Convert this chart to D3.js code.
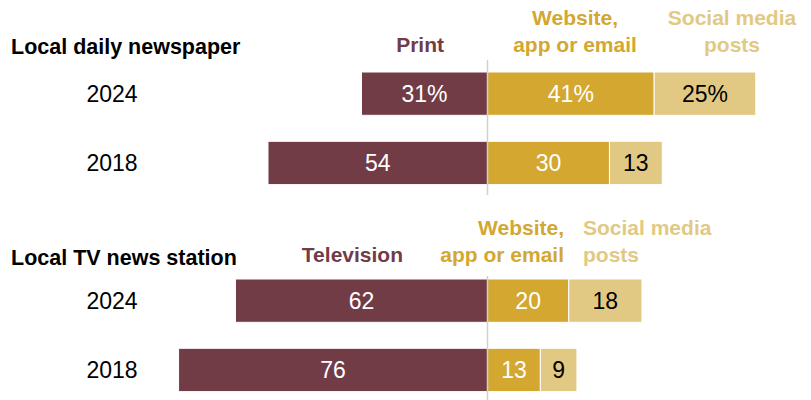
<!DOCTYPE html>
<html>
<head>
<meta charset="utf-8">
<script src="https://cdn.jsdelivr.net/npm/d3@7"></script>
<style>
  html, body { margin: 0; padding: 0; background: #fff; }
  svg { display: block; font-family: "Liberation Sans", Arial, sans-serif; }
</style>
</head>
<body>
<svg id="chart" width="811" height="400"></svg>
<script>
// Where people get news from local outlets, by platform
const years = ["2024", "2018"];
const groups = ["Local daily newspaper", "Local TV news station"];
const legacyNames = ["Print", "Television"];
const legacy = [[31, 54], [62, 76]];          // print / television share
const digital = [[41, 30], [20, 13]];         // website, app or email
const social = [[25, 13], [18, 9]];           // social media posts

const colors = { legacy: "#723c47", digital: "#d3a730", social: "#e2c983", axis: "#d0d0d0" };

const svg = d3.select("#chart");
const x = d3.scaleLinear().domain([-100, 100]).range([81, 894]);
const y = d3.scaleBand().domain(years).range([0, 112.6]).paddingInner(0.375);

const groupTop = [72, 279];
const axisSpan = [[-12, 123], [-3, 121]];

groups.forEach((name, gi) => {
  const g = svg.append("g").attr("transform", `translate(0,${groupTop[gi]})`);

  // group title
  g.append("text")
    .attr("x", 11).attr("y", gi === 0 ? -18 : -14)
    .attr("font-size", 21.5).attr("font-weight", "bold").attr("fill", "#000")
    .text(name);

  // year labels
  g.selectAll("text.year").data(years).join("text")
    .attr("class", "year")
    .attr("x", 112).attr("y", d => y(d) + y.bandwidth() / 2)
    .attr("dy", "0.36em").attr("text-anchor", "middle")
    .attr("font-size", 23).attr("fill", "#000")
    .text(d => d);

  const rows = years.map((yr, i) => ({
    yr, l: legacy[gi][i], d: digital[gi][i], s: social[gi][i], first: i === 0
  }));

  const segs = [];
  rows.forEach(r => {
    const pct = r.first && gi === 0;
    segs.push({ yr: r.yr, x0: -r.l, x1: 0, v: r.l, fill: colors.legacy, tc: "#fff", pct });
    segs.push({ yr: r.yr, x0: 0, x1: r.d, v: r.d, fill: colors.digital, tc: "#fff", pct });
    segs.push({ yr: r.yr, x0: r.d, x1: r.d + r.s, v: r.s, fill: colors.social, tc: "#000", pct });
  });

  g.selectAll("rect.seg").data(segs).join("rect")
    .attr("class", "seg")
    .attr("x", d => x(d.x0)).attr("width", d => x(d.x1) - x(d.x0))
    .attr("y", d => y(d.yr)).attr("height", y.bandwidth())
    .attr("fill", d => d.fill)
    .attr("stroke", "#fff").attr("stroke-width", 1);

  g.selectAll("text.val").data(segs).join("text")
    .attr("class", "val")
    .attr("x", d => (x(d.x0) + x(d.x1)) / 2)
    .attr("y", d => y(d.yr) + y.bandwidth() / 2)
    .attr("dy", "0.36em").attr("text-anchor", "middle")
    .attr("font-size", 23).attr("fill", d => d.tc)
    .text(d => d.pct ? d.v + "%" : d.v);

  // zero line
  g.append("line")
    .attr("x1", x(0)).attr("x2", x(0))
    .attr("y1", axisSpan[gi][0]).attr("y2", axisSpan[gi][1])
    .attr("stroke", colors.axis).attr("stroke-width", 1.5);

  // column headers
  const hdr = (lines, xPos, anchor, fill, baseY) => {
    const t = g.append("text")
      .attr("font-size", 21).attr("font-weight", "bold").attr("fill", fill)
      .attr("text-anchor", anchor);
    lines.forEach((ln, k) => {
      t.append("tspan").attr("x", xPos).attr("y", baseY + k * 27).text(ln);
    });
  };
  if (gi === 0) {
    hdr([legacyNames[gi]], 444, "end", colors.legacy, -20);
    hdr(["Website,", "app or email"], 575, "middle", colors.digital, -47);
    hdr(["Social media", "posts"], 732, "middle", colors.social, -47);
  } else {
    hdr([legacyNames[gi]], 403, "end", colors.legacy, -17);
    hdr(["Website,", "app or email"], 564, "end", colors.digital, -44);
    hdr(["Social media", "posts"], 583, "start", colors.social, -44);
  }
});
</script>
</body>
</html>
